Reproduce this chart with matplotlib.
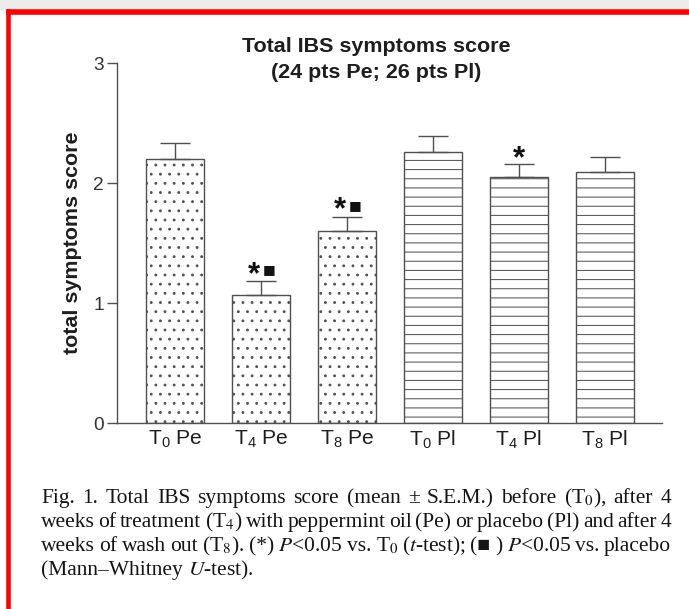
import matplotlib
matplotlib.use('Agg')
import matplotlib.pyplot as plt
from matplotlib.patches import Rectangle
import numpy as np

# figure is 689 x 609 px; dpi 110 so that the hatch spacing is close to the scan
DPI = 110
W, H = 689, 609


def pt(px):
    # pixel size -> points at this dpi
    return px * 72 / DPI


# data
groups = [r'T$_0$ Pe', r'T$_4$ Pe', r'T$_8$ Pe', r'T$_0$ Pl', r'T$_4$ Pl', r'T$_8$ Pl']
treatment = ['Pe', 'Pe', 'Pe', 'Pl', 'Pl', 'Pl']
means = [2.20, 1.07, 1.60, 2.26, 2.05, 2.09]
sems = [0.13, 0.11, 0.12, 0.13, 0.11, 0.13]
vs_t0 = [False, True, True, False, True, False]       # (*)  P<0.05 vs T0
vs_placebo = [False, True, True, False, False, False]  # (■) P<0.05 vs placebo

caption = [
    r'Fig. 1. Total IBS symptoms score (mean ± S.E.M.) before (T$_0$), after 4',
    r'weeks of treatment (T$_4$) with peppermint oil (Pe) or placebo (Pl) and after 4',
    r'weeks of wash out (T$_8$). (*) $P$<0.05 vs. T$_0$ ($t$-test); (■ ) $P$<0.05 vs. placebo',
    r'(Mann–Whitney $U$-test).',
]

sans = ['Liberation Sans', 'DejaVu Sans']
serif = ['Liberation Serif', 'DejaVu Serif']
plt.rcParams['font.family'] = sans
plt.rcParams['mathtext.fontset'] = 'custom'
plt.rcParams['mathtext.rm'] = 'Liberation Sans'
plt.rcParams['mathtext.it'] = 'Liberation Sans:italic'
plt.rcParams['mathtext.bf'] = 'Liberation Sans:bold'
plt.rcParams['hatch.linewidth'] = pt(1.0)

ink = '#505050'
dark = '#1e1e1e'

fig = plt.figure(figsize=(W / DPI, H / DPI), dpi=DPI)


def fx(px):
    return px / W


def fy(px):
    return 1 - px / H


# screenshot frame: grey strip on top, red border top and left
fig.patches.append(Rectangle((0, fy(10)), 1, 10 / H, transform=fig.transFigure,
                             color='#ececec', zorder=0))
fig.patches.append(Rectangle((fx(7), fy(14)), 1, 4 / H, transform=fig.transFigure,
                             color='#ff0000', zorder=1))
fig.patches.append(Rectangle((fx(7), 0), 3 / W, fy(10), transform=fig.transFigure,
                             color='#ff0000', zorder=1))

ax = fig.add_axes([fx(117), fy(423), fx(662) - fx(117), (423 - 63) / H])

x = np.arange(len(groups))
hatch_for = {'Pe': '..', 'Pl': '--'}
for xi, m, t in zip(x, means, treatment):
    ax.bar(xi, m, width=0.675, facecolor='white', edgecolor=ink,
           linewidth=pt(1.4), hatch=hatch_for[t], zorder=2)

ax.errorbar(x, means, yerr=[np.zeros(len(means)), sems], fmt='none',
            ecolor=ink, elinewidth=pt(1.4), capsize=pt(15), capthick=pt(1.4),
            zorder=3)

# significance marks above the error bars
star_kw = dict(textcoords='offset points', ha='center', va='bottom',
               fontsize=pt(31), fontweight='bold', color='#111111')
sq_kw = dict(textcoords='offset points', ha='center', va='bottom',
             fontsize=pt(13.5), family='DejaVu Sans', color='#111111')
for xi, m, s, a, b in zip(x, means, sems, vs_t0, vs_placebo):
    if a and b:
        ax.annotate('*', xy=(xi, m + s), xytext=(pt(-7), pt(-9)), **star_kw)
        ax.annotate('■', xy=(xi, m + s), xytext=(pt(8), pt(5)), **sq_kw)
    elif a:
        ax.annotate('*', xy=(xi, m + s), xytext=(0, pt(-10)), **star_kw)

ax.set_xlim(-0.675, 5.665)
ax.set_ylim(0, 3)
ax.set_yticks([0, 1, 2, 3])
ax.set_xticks(x)
ax.set_xticklabels(groups, fontsize=pt(21))
ax.tick_params(axis='x', length=0, pad=pt(6), colors=dark)
ax.tick_params(axis='y', length=pt(10), width=pt(1.4), pad=pt(3),
               labelsize=pt(19), colors=ink, labelcolor='#333333')
for side in ['top', 'right']:
    ax.spines[side].set_visible(False)
for side in ['left', 'bottom']:
    ax.spines[side].set_color(ink)
    ax.spines[side].set_linewidth(pt(1.4))
ax.set_facecolor('none')

ax.set_ylabel('total symptoms score', fontsize=pt(21.5), fontweight='bold',
              color=dark, labelpad=pt(11))

fig.text(fx(376), fy(47), 'Total IBS symptoms score', ha='center', va='center',
         fontsize=pt(21.5), fontweight='bold', color=dark)
fig.text(fx(376), fy(73), '(24 pts Pe; 26 pts Pl)', ha='center', va='center',
         fontsize=pt(21.5), fontweight='bold', color=dark)

# caption, justified like the journal page
fig.canvas.draw()
renderer = fig.canvas.get_renderer()
left, right = 41, 671
baselines = [503, 527, 551, 575]
cap_px = 21.5
for n, (line, base) in enumerate(zip(caption, baselines)):
    items = []
    for w in line.split(' '):
        t = fig.text(0, fy(base), w, ha='left', va='baseline', fontsize=pt(cap_px),
                     family=serif, math_fontfamily='stix', color='#141414')
        items.append(t)
    widths = [t.get_window_extent(renderer).width for t in items]
    if n < len(caption) - 1:
        gap = (right - left - sum(widths)) / (len(items) - 1)
    else:
        gap = 0.25 * cap_px
    pos = left
    for t, wd in zip(items, widths):
        t.set_x(fx(pos))
        pos += wd + gap

fig.savefig('out.png', dpi=DPI)
